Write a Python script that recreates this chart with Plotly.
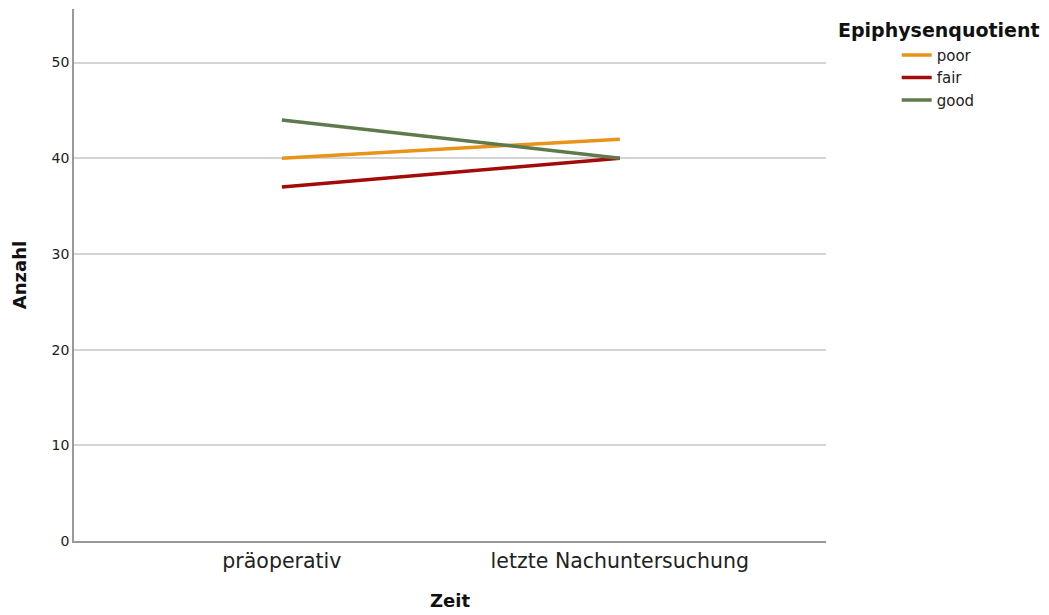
import plotly.graph_objects as go

categories = ["präoperativ", "letzte Nachuntersuchung"]
series_names = ["poor", "fair", "good"]
poor = [40, 42]
fair = [37, 40]
good = [44, 40]
colors = {"poor": "#E8931A", "fair": "#A30A0A", "good": "#5F7A4C"}

FONT = "DejaVu Sans"
fig = go.Figure()
for name, vals in zip(series_names, [poor, fair, good]):
    fig.add_trace(go.Scatter(
        x=categories, y=vals, mode="lines", name=name,
        line=dict(color=colors[name], width=3.5),
    ))

# page body adds an 8px offset; margins compensate
fig.update_layout(
    width=1049, height=615,
    margin=dict(l=66, r=231, t=1, b=82),
    paper_bgcolor="white", plot_bgcolor="white",
    font=dict(family=FONT, color="#222"),
    showlegend=True,
    legend=dict(
        x=1.094, xanchor="left", y=0.944, yanchor="top",
        font=dict(size=15, family=FONT, color="#222"),
        tracegroupgap=0, itemwidth=30,
        bgcolor="rgba(0,0,0,0)",
    ),
    annotations=[dict(
        text="<b>Epiphysenquotient</b>", x=1.013, xref="paper", xanchor="left",
        y=1 - (30 - 9) / (541 - 9), yref="paper", yanchor="middle", showarrow=False,
        font=dict(size=19, family=FONT, color="#111"),
    )],
)

fig.update_xaxes(
    type="category", range=[-0.615, 1.61], automargin=False,
    showgrid=False, showline=True, linecolor="#999", linewidth=2,
    ticks="", tickfont=dict(size=20.5, family=FONT, color="#222"),
    title=dict(text="<b>Zeit</b>", font=dict(size=18, family=FONT, color="#111"), standoff=23),
    zeroline=False,
)
fig.update_yaxes(
    range=[0, 55.6], tickvals=[0, 10, 20, 30, 40, 50], automargin=False,
    showgrid=True, gridcolor="#d4d4d4", gridwidth=1.5,
    showline=True, linecolor="#999", linewidth=1.5,
    ticks="", tickfont=dict(size=14, family=FONT, color="#222"),
    title=dict(text="<b>Anzahl</b>", font=dict(size=18, family=FONT, color="#111"), standoff=20),
    zeroline=False,
)

fig.write_html("out.html")
